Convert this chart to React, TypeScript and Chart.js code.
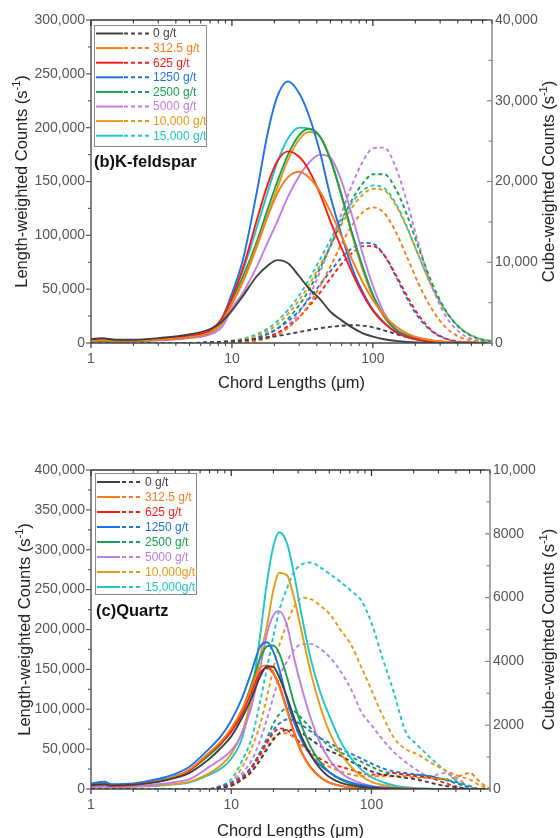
import React, { useEffect, useRef } from "react";
import { Chart, registerables } from "chart.js";

Chart.register(...registerables);

const FONT = "'Liberation Sans', Arial, Helvetica, sans-serif";

const seriesColors = ["#404040", "#F97C14", "#FF1A1A", "#1D72E8", "#18A152", "#C07CE8", "#E69A12", "#1CC6CA"];

const kfLegendLabels = ["0 g/t", "312.5 g/t", "625 g/t", "1250 g/t", "2500 g/t", "5000 g/t", "10,000 g/t", "15,000 g/t"];
const qzLegendLabels = ["0 g/t", "312.5 g/t", "625 g/t", "1250 g/t", "2500 g/t", "5000 g/t", "10,000g/t", "15,000g/t"];

const xTickLabels = [1, 10, 100];
const kfLeftTicks = [0, 50000, 100000, 150000, 200000, 250000, 300000];
const kfRightTicks = [0, 10000, 20000, 30000, 40000];
const qzLeftTicks = [0, 50000, 100000, 150000, 200000, 250000, 300000, 350000, 400000];
const qzRightTicks = [0, 2000, 4000, 6000, 8000, 10000];

// ---------- (b) K-feldspar ----------
const kfChord = [1, 1.2, 1.5, 2, 3, 5, 7, 8.5, 10, 12, 15, 18, 21, 25, 30, 35, 42, 50, 60, 72, 85, 100, 120, 145, 175, 210, 260, 330, 420, 550, 700];

const kfLen0 = [3500, 4500, 3000, 3000, 4500, 8000, 13000, 20000, 30000, 44000, 62000, 72000, 77000, 74000, 62000, 51000, 41000, 29000, 21000, 14000, 9000, 6000, 3500, 2000, 1000, 500, 200, 100, 0, 0, 0];
const kfLen312 = [2000, 2500, 2000, 2200, 3000, 5500, 10000, 20000, 37000, 58000, 91000, 118000, 139000, 154000, 159000, 154000, 141000, 122000, 99000, 76000, 56000, 40000, 26000, 15500, 8800, 5000, 2500, 1000, 400, 100, 0];
const kfLen625 = [2500, 3000, 2500, 2500, 3500, 7000, 12000, 23000, 42000, 70000, 114000, 148000, 169000, 178000, 173000, 161000, 139000, 113000, 88000, 64000, 45000, 30000, 18500, 10500, 5500, 3000, 1500, 700, 300, 100, 0];
const kfLen1250 = [2500, 3000, 2500, 2500, 3500, 6500, 10500, 23000, 46000, 78000, 140000, 196000, 229000, 243000, 232000, 212000, 178000, 136000, 100000, 68000, 47000, 31000, 19000, 10000, 5500, 3000, 1500, 700, 300, 100, 0];
const kfLen2500 = [1500, 2000, 1500, 2000, 3000, 5500, 10000, 20000, 40000, 62000, 94000, 125000, 150000, 175000, 193000, 199000, 192000, 170000, 137000, 100000, 70000, 45000, 25000, 12500, 7000, 4000, 2000, 1000, 400, 100, 0];
const kfLen5000 = [1200, 1500, 1200, 1500, 2500, 4500, 8000, 15000, 32000, 47000, 71000, 94000, 113000, 136000, 155000, 167000, 175000, 172000, 150000, 116000, 82000, 53000, 28000, 13000, 6000, 3500, 2000, 1000, 400, 100, 0];
const kfLen10000 = [1500, 2000, 1500, 1800, 2800, 5000, 9000, 18000, 36000, 57000, 89000, 119000, 144000, 170000, 189000, 196000, 192000, 171000, 136000, 98000, 67000, 43000, 24000, 12000, 6500, 3500, 1800, 800, 300, 100, 0];
const kfLen15000 = [1500, 2000, 1500, 1800, 2800, 5000, 10000, 22000, 43000, 68000, 107000, 141000, 168000, 190000, 200000, 199000, 192000, 171000, 137000, 99000, 69000, 44000, 25000, 12500, 7000, 4000, 2000, 1000, 400, 100, 0];

const kfCube0 = [0, 0, 0, 0, 0, 0, 90, 150, 220, 320, 500, 690, 870, 1100, 1360, 1580, 1820, 2000, 2140, 2200, 2150, 1940, 1570, 1130, 730, 430, 200, 80, 30, 0, 0];
const kfCube312 = [0, 0, 0, 0, 0, 0, 0, 20, 40, 100, 280, 580, 1000, 1850, 3200, 4700, 7000, 9500, 12300, 14700, 16200, 16800, 16100, 13800, 10600, 7400, 4300, 1900, 700, 200, 50];
const kfCube625 = [0, 0, 0, 0, 0, 0, 0, 30, 80, 170, 410, 770, 1260, 2060, 3200, 4500, 6200, 8000, 9800, 11200, 12000, 12000, 10900, 8500, 5800, 3500, 1600, 550, 150, 50, 0];
const kfCube1250 = [0, 0, 0, 0, 0, 0, 50, 100, 150, 300, 650, 1150, 1760, 2700, 4000, 5400, 7200, 8900, 10600, 11800, 12400, 12300, 10900, 8300, 5500, 3200, 1500, 500, 130, 50, 0];
const kfCube2500 = [0, 0, 0, 0, 0, 0, 30, 60, 130, 270, 620, 1140, 1800, 3000, 4700, 6500, 9200, 12000, 15100, 17900, 19800, 20900, 20900, 19100, 15800, 11900, 7600, 4000, 1750, 570, 180];
const kfCube5000 = [0, 0, 0, 0, 0, 0, 0, 20, 50, 100, 320, 680, 1200, 2200, 3800, 5700, 8700, 12200, 16100, 19800, 22500, 24100, 24200, 21800, 17400, 12400, 7200, 3300, 1200, 320, 80];
const kfCube10000 = [0, 0, 0, 0, 0, 0, 50, 120, 250, 450, 900, 1500, 2300, 3600, 5300, 7100, 9600, 12000, 14700, 16900, 18400, 19100, 18900, 17100, 14200, 10900, 7100, 3900, 1800, 600, 200];
const kfCube15000 = [0, 0, 0, 0, 0, 0, 70, 160, 300, 550, 1100, 1800, 2700, 4100, 5900, 7800, 10300, 12800, 15400, 17500, 18900, 19500, 19200, 17300, 14300, 10900, 7100, 3900, 1800, 650, 200];

// ---------- (c) Quartz ----------
const qzChord = [1, 1.25, 1.4, 2, 3, 4, 5, 7, 8.5, 10, 12, 14, 16, 18, 20, 22, 25, 28, 32, 37, 43, 50, 60, 72, 85, 100, 120, 145, 175, 210, 260, 330, 420, 500, 600, 700];

const qzLen0 = [5000, 6000, 4500, 5500, 9000, 14000, 20000, 38000, 52000, 66000, 90000, 115000, 140000, 154000, 153000, 140000, 115000, 90000, 64000, 42000, 26000, 15000, 8000, 4500, 2500, 1500, 700, 300, 100, 0, 0, 0, 0, 0, 0, 0];
const qzLen312 = [5000, 6000, 4500, 5500, 9500, 15500, 24000, 46000, 60000, 76000, 100000, 128000, 152000, 155000, 146000, 128000, 98000, 70000, 44000, 26000, 15000, 8000, 4000, 2000, 1000, 500, 200, 0, 0, 0, 0, 0, 0, 0, 0, 0];
const qzLen625 = [4500, 5500, 4000, 5000, 9500, 15000, 23000, 45000, 58000, 72000, 95000, 123000, 145000, 152000, 145000, 130000, 100000, 72000, 45000, 27000, 15000, 8000, 4000, 2000, 1000, 500, 200, 0, 0, 0, 0, 0, 0, 0, 0, 0];
const qzLen1250 = [7000, 9000, 6000, 7000, 12500, 19000, 27500, 51000, 67000, 86000, 115000, 148000, 178000, 184000, 172000, 150000, 112000, 84000, 60000, 42000, 30000, 21000, 13000, 8000, 5000, 3000, 1700, 900, 400, 200, 0, 0, 0, 0, 0, 0];
const qzLen2500 = [5500, 6500, 5000, 6000, 10000, 16000, 23000, 43000, 57000, 74000, 100000, 132000, 163000, 179000, 180000, 170000, 140000, 108000, 78000, 52000, 34000, 21000, 12000, 6500, 3500, 2000, 1000, 500, 200, 0, 0, 0, 0, 0, 0, 0];
const qzLen5000 = [2500, 3000, 2500, 3500, 6000, 9000, 12000, 28000, 38000, 48000, 70000, 105000, 150000, 195000, 218000, 223000, 205000, 165000, 125000, 88000, 58000, 37000, 21000, 12000, 7000, 4000, 2200, 1100, 500, 200, 0, 0, 0, 0, 0, 0];
const qzLen10000 = [2500, 3000, 2500, 3000, 4500, 6500, 9000, 20000, 30000, 44000, 72000, 115000, 165000, 205000, 250000, 271000, 268000, 240000, 195000, 145000, 104000, 72000, 45000, 27000, 16000, 9000, 5000, 2500, 1200, 500, 200, 0, 0, 0, 0, 0];
const qzLen15000 = [2500, 3000, 2500, 3000, 4000, 6000, 8000, 18000, 26000, 38000, 65000, 120000, 190000, 260000, 305000, 322000, 308000, 270000, 215000, 162000, 122000, 92000, 60000, 38000, 24000, 15000, 8500, 4500, 2200, 1000, 400, 100, 0, 0, 0, 0];

const qzCube0 = [0, 0, 0, 0, 0, 0, 0, 0, 50, 100, 300, 550, 900, 1250, 1550, 1750, 1850, 1850, 1750, 1550, 1350, 1200, 1050, 850, 700, 550, 450, 400, 350, 300, 200, 100, 50, 0, 0, 0];
const qzCube312 = [0, 0, 0, 0, 0, 0, 0, 0, 50, 100, 300, 550, 900, 1300, 1600, 1720, 1750, 1600, 1350, 1100, 850, 700, 550, 450, 400, 400, 400, 400, 400, 350, 350, 300, 400, 500, 200, 0];
const qzCube625 = [0, 0, 0, 0, 0, 0, 0, 0, 50, 150, 350, 650, 1050, 1450, 1750, 1900, 1850, 1650, 1400, 1150, 950, 800, 700, 600, 500, 450, 450, 500, 450, 400, 350, 200, 50, 0, 0, 0];
const qzCube1250 = [0, 0, 0, 0, 0, 0, 0, 0, 100, 200, 400, 700, 1100, 1500, 1850, 2050, 2180, 2150, 2000, 1800, 1600, 1450, 1250, 1100, 950, 800, 650, 550, 500, 450, 400, 300, 150, 50, 0, 0];
const qzCube2500 = [0, 0, 0, 0, 0, 0, 0, 0, 50, 150, 350, 700, 1150, 1600, 2050, 2350, 2520, 2450, 2200, 1900, 1600, 1350, 1150, 1000, 850, 700, 550, 500, 450, 450, 400, 300, 200, 100, 0, 0];
const qzCube5000 = [0, 0, 0, 0, 0, 0, 0, 0, 100, 200, 500, 900, 1500, 2200, 2900, 3500, 4000, 4350, 4550, 4550, 4400, 4150, 3700, 3100, 2400, 2000, 1550, 1150, 850, 600, 400, 500, 300, 50, 0, 0];
const qzCube10000 = [0, 0, 0, 0, 0, 0, 0, 0, 100, 200, 700, 1300, 2000, 2900, 3800, 4500, 5200, 5700, 6000, 5950, 5750, 5500, 5000, 4500, 3800, 3100, 2300, 1600, 1250, 1100, 850, 600, 400, 300, 100, 0];
const qzCube15000 = [0, 0, 0, 0, 0, 0, 0, 0, 100, 300, 900, 1600, 2700, 3800, 4800, 5600, 6300, 6800, 7050, 7100, 6950, 6750, 6500, 6200, 5900, 5200, 4100, 3000, 1800, 1400, 1000, 600, 200, 0, 0, 0];

type Panel = {
  height: number;
  padTop: number;
  xAxisH: number;
  leftW: number;
  rightW: number;
  chord: number[];
  length: number[][];
  cube: number[][];
  labels: string[];
  leftTicks: number[];
  leftMinor: number;
  rightTicks: number[];
  rightMinor: number;
  rightFmt: (v: number) => string;
  legend: { x: number; y: number; w: number; h: number; row0: number; dy: number; s0: number; s1: number; d0: number; d1: number; tx: number };
  panelLabel: string;
  panelX: number;
  panelY: number;
  leftTitleX: number;
  rightTitleX: number;
  xTitleY: number;
};

const comma = (v: number) => v.toLocaleString("en-US");

const panels: Panel[] = [
  {
    height: 410,
    padTop: 20,
    xAxisH: 67,
    leftW: 91,
    rightW: 68,
    chord: kfChord,
    length: [kfLen0, kfLen312, kfLen625, kfLen1250, kfLen2500, kfLen5000, kfLen10000, kfLen15000],
    cube: [kfCube0, kfCube312, kfCube625, kfCube1250, kfCube2500, kfCube5000, kfCube10000, kfCube15000],
    labels: kfLegendLabels,
    leftTicks: kfLeftTicks,
    leftMinor: 25000,
    rightTicks: kfRightTicks,
    rightMinor: 5000,
    rightFmt: comma,
    legend: { x: 94, y: 25, w: 112, h: 121, row0: 33.5, dy: 14.6, s0: 96, s1: 123, d0: 124, d1: 152, tx: 153 },
    panelLabel: "(b)K-feldspar",
    panelX: 94,
    panelY: 167,
    leftTitleX: 22,
    rightTitleX: 549,
    xTitleY: 383,
  },
  {
    height: 428,
    padTop: 60,
    xAxisH: 49,
    leftW: 91,
    rightW: 70,
    chord: qzChord,
    length: [qzLen0, qzLen312, qzLen625, qzLen1250, qzLen2500, qzLen5000, qzLen10000, qzLen15000],
    cube: [qzCube0, qzCube312, qzCube625, qzCube1250, qzCube2500, qzCube5000, qzCube10000, qzCube15000],
    labels: qzLegendLabels,
    leftTicks: qzLeftTicks,
    leftMinor: 25000,
    rightTicks: qzRightTicks,
    rightMinor: 1000,
    rightFmt: (v: number) => (v >= 10000 ? comma(v) : String(v)),
    legend: { x: 95, y: 63, w: 101, h: 121, row0: 72, dy: 15, s0: 97, s1: 120, d0: 122, d1: 142, tx: 145 },
    panelLabel: "(c)Quartz",
    panelX: 96,
    panelY: 206,
    leftTitleX: 25,
    rightTitleX: 549,
    xTitleY: 421,
  },
];

function drawSupTitle(ctx: CanvasRenderingContext2D, cx: number, cy: number, rotate: boolean, base: string, sup: string, tail: string) {
  ctx.save();
  ctx.translate(cx, cy);
  if (rotate) ctx.rotate(-Math.PI / 2);
  const big = `16.5px ${FONT}`;
  const small = `11px ${FONT}`;
  ctx.font = big;
  const w1 = ctx.measureText(base).width;
  const w3 = ctx.measureText(tail).width;
  ctx.font = small;
  const w2 = sup ? ctx.measureText(sup).width : 0;
  const x0 = -(w1 + w2 + w3) / 2;
  ctx.fillStyle = "#222";
  ctx.textAlign = "left";
  ctx.textBaseline = "middle";
  ctx.font = big;
  ctx.fillText(base, x0, 0);
  if (sup) {
    ctx.font = small;
    ctx.fillText(sup, x0 + w1, -5);
  }
  ctx.font = big;
  if (tail) ctx.fillText(tail, x0 + w1 + w2, 0);
  ctx.restore();
}

function makeDecor(p: Panel) {
  return {
    id: "decor",
    afterDraw(chart: any) {
      const { ctx, chartArea: a, scales } = chart;
      const sx = scales.x;
      const sy = scales.y;
      const sy1 = scales.y1;
      ctx.save();
      const seg = (x1: number, y1: number, x2: number, y2: number, color: string, w = 1.5) => {
        ctx.strokeStyle = color;
        ctx.lineWidth = w;
        ctx.setLineDash([]);
        ctx.beginPath();
        ctx.moveTo(x1, y1);
        ctx.lineTo(x2, y2);
        ctx.stroke();
      };
      // frame
      seg(a.left, a.top, a.right, a.top, "#333");
      seg(a.left, a.top - 0.75, a.left, a.bottom + 0.75, "#5a5a5a");
      seg(a.left, a.bottom, a.right, a.bottom, "#444");
      seg(a.right, a.top - 0.75, a.right, a.bottom + 0.75, "#8a8a8a");

      // x ticks (bottom outward, top inward)
      const xMajor = [1, 10, 100];
      const xMinor: number[] = [];
      [1, 10, 100].forEach((d) => {
        for (let m = 2; m <= 9; m++) if (m * d <= 700) xMinor.push(m * d);
      });
      xMajor.forEach((v) => {
        const px = sx.getPixelForValue(v);
        seg(px, a.bottom, px, a.bottom + 5, "#444", 1.3);
        seg(px, a.top, px, a.top + 6, "#333", 1.3);
      });
      xMinor.forEach((v) => {
        const px = sx.getPixelForValue(v);
        seg(px, a.bottom, px, a.bottom + 3, "#444", 1.1);
        seg(px, a.top, px, a.top + 3.5, "#333", 1.1);
      });
      // left ticks outward
      const lMax = p.leftTicks[p.leftTicks.length - 1];
      for (let v = 0; v <= lMax; v += p.leftMinor) {
        const py = sy.getPixelForValue(v);
        const major = p.leftTicks.includes(v);
        seg(a.left - (major ? 5 : 3), py, a.left, py, "#5a5a5a", 1.2);
      }
      // right ticks inward
      const rMax = p.rightTicks[p.rightTicks.length - 1];
      for (let v = 0; v <= rMax; v += p.rightMinor) {
        const py = sy1.getPixelForValue(v);
        const major = p.rightTicks.includes(v);
        seg(a.right - (major ? 5 : 3.5), py, a.right, py, "#8a8a8a", 1.2);
      }

      // legend
      const L = p.legend;
      ctx.strokeStyle = "#8a8a8a";
      ctx.lineWidth = 1;
      ctx.setLineDash([]);
      ctx.strokeRect(L.x + 0.5, L.y + 0.5, L.w, L.h);
      ctx.font = `12px ${FONT}`;
      ctx.textAlign = "left";
      ctx.textBaseline = "middle";
      p.labels.forEach((lab, i) => {
        const yy = L.row0 + i * L.dy;
        const col = seriesColors[i];
        ctx.strokeStyle = col;
        ctx.lineWidth = 2;
        ctx.setLineDash([]);
        ctx.beginPath();
        ctx.moveTo(L.s0, yy);
        ctx.lineTo(L.s1, yy);
        ctx.stroke();
        ctx.setLineDash([4, 3]);
        ctx.beginPath();
        ctx.moveTo(L.d0, yy);
        ctx.lineTo(L.d1, yy);
        ctx.stroke();
        ctx.setLineDash([]);
        ctx.fillStyle = col;
        ctx.fillText(lab, L.tx, yy + 0.5);
      });

      // panel label
      ctx.font = `bold 16.5px ${FONT}`;
      ctx.fillStyle = "#111";
      ctx.textBaseline = "alphabetic";
      ctx.fillText(p.panelLabel, p.panelX, p.panelY);

      // axis titles
      const cy = (a.top + a.bottom) / 2;
      drawSupTitle(ctx, p.leftTitleX, cy, true, "Length-weighted Counts (s", "-1", ")");
      drawSupTitle(ctx, p.rightTitleX, cy, true, "Cube-weighted Counts (s", "-1", ")");
      drawSupTitle(ctx, (a.left + a.right) / 2, p.xTitleY, false, "Chord Lengths (\u03bcm)", "", "");
      ctx.restore();
    },
  };
}

function PanelChart({ p }: { p: Panel }) {
  const ref = useRef<HTMLCanvasElement>(null);
  useEffect(() => {
    const canvas = ref.current;
    if (!canvas) return;
    const datasets: any[] = [];
    p.length.forEach((arr, i) => {
      datasets.push({
        label: p.labels[i] + " length",
        data: p.chord.map((x, k) => ({ x, y: arr[k] })),
        borderColor: seriesColors[i],
        backgroundColor: seriesColors[i],
        borderWidth: 1.9,
        pointRadius: 0,
        cubicInterpolationMode: "monotone",
        fill: false,
        yAxisID: "y",
      });
    });
    p.cube.forEach((arr, i) => {
      datasets.push({
        label: p.labels[i] + " cube",
        data: p.chord.map((x, k) => ({ x, y: arr[k] })),
        borderColor: seriesColors[i],
        backgroundColor: seriesColors[i],
        borderWidth: 1.9,
        borderDash: [4, 3],
        pointRadius: 0,
        cubicInterpolationMode: "monotone",
        fill: false,
        yAxisID: "y1",
      });
    });
    const tickFont = { family: FONT, size: 14 };
    const chart = new Chart(canvas, {
      type: "line",
      data: { datasets },
      options: {
        animation: false,
        responsive: false,
        devicePixelRatio: 1,
        layout: { padding: { top: p.padTop, left: 0, right: 0, bottom: 0 } },
        plugins: { legend: { display: false }, tooltip: { enabled: false }, title: { display: false } },
        scales: {
          x: {
            type: "logarithmic",
            position: "bottom",
            min: 1,
            max: 700,
            grid: { display: false, drawTicks: true, tickLength: 5 },
            border: { display: false },
            afterBuildTicks: (s: any) => {
              s.ticks = xTickLabels.map((v) => ({ value: v }));
            },
            afterFit: (s: any) => {
              s.height = p.xAxisH;
            },
            ticks: {
              autoSkip: false,
              maxRotation: 0,
              padding: 3,
              color: "#555",
              font: tickFont,
              callback: (v: any) => String(v),
            },
          },
          y: {
            type: "linear",
            position: "left",
            min: 0,
            max: p.leftTicks[p.leftTicks.length - 1],
            grid: { display: false, drawTicks: true, tickLength: 5 },
            border: { display: false },
            afterBuildTicks: (s: any) => {
              s.ticks = p.leftTicks.map((v) => ({ value: v }));
            },
            afterFit: (s: any) => {
              s.width = p.leftW;
            },
            ticks: { padding: 1, color: "#555", font: tickFont, callback: (v: any) => comma(Number(v)) },
          },
          y1: {
            type: "linear",
            position: "right",
            min: 0,
            max: p.rightTicks[p.rightTicks.length - 1],
            grid: { display: false, drawTicks: false, tickLength: 0 },
            border: { display: false },
            afterBuildTicks: (s: any) => {
              s.ticks = p.rightTicks.map((v) => ({ value: v }));
            },
            afterFit: (s: any) => {
              s.width = p.rightW;
            },
            ticks: { padding: 3, color: "#555", font: tickFont, callback: (v: any) => p.rightFmt(Number(v)) },
          },
        },
      } as any,
      plugins: [makeDecor(p)],
    });
    return () => chart.destroy();
  }, [p]);
  return <canvas ref={ref} width={560} height={p.height} style={{ display: "block", width: 560, height: p.height }} />;
}

export default function App() {
  return (
    <div style={{ position: "absolute", left: 0, top: 0, width: 560, height: 838, background: "#fff" }}>
      <PanelChart p={panels[0]} />
      <PanelChart p={panels[1]} />
    </div>
  );
}
